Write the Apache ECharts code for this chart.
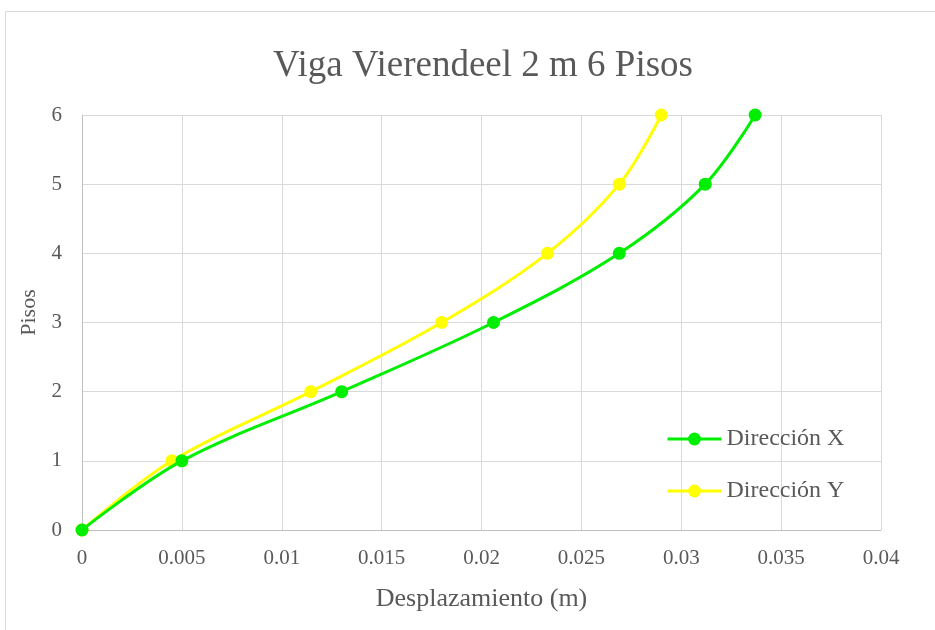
<!DOCTYPE html>
<html><head><meta charset="utf-8">
<script src="https://cdn.jsdelivr.net/npm/echarts@6/dist/echarts.min.js"></script>
<style>html,body{margin:0;padding:0;background:#fff}#c{width:935px;height:630px}</style>
</head><body><div id="c"></div>
<script>
const pisos = [0, 1, 2, 3, 4, 5, 6];
const dirX = [0, 0.0050, 0.0130, 0.0206, 0.0269, 0.0312, 0.0337];
const dirY = [0, 0.0045, 0.01145, 0.0180, 0.0233, 0.0269, 0.0290];
const seriesNames = ['Dirección X', 'Dirección Y'];
const colors = ['#00ee00', '#ffff00'];
const titleText = 'Viga Vierendeel 2 m 6 Pisos';
const xName = 'Desplazamiento (m)';
const yName = 'Pisos';

const font = '"Liberation Serif", "Times New Roman", serif';
const chart = echarts.init(document.getElementById('c'), null, {renderer: 'canvas'});
function mk(vals, i) {
  return {
    name: seriesNames[i], type: 'line', smooth: 0.35,
    data: vals.map((v, k) => [v, pisos[k]]),
    symbol: 'circle', symbolSize: 13,
    lineStyle: {color: colors[i], width: 3},
    itemStyle: {color: colors[i]},
    z: i === 0 ? 3 : 2
  };
}
chart.setOption({
  animation: false,
  backgroundColor: '#fff',
  graphic: [{type: 'rect', shape: {x: 5.5, y: 11.5, width: 1000, height: 700}, style: {fill: null, stroke: '#d9d9d9', lineWidth: 1}, silent: true}],
  title: {text: titleText, left: 268, top: 43, textStyle: {fontFamily: font, fontSize: 37, fontWeight: 'normal', color: '#595959'}},
  legend: {
    orient: 'vertical', left: 661, top: 422, itemGap: 28, itemWidth: 54, itemHeight: 16,
    data: seriesNames,
    lineStyle: {width: 3},
    textStyle: {fontFamily: font, fontSize: 24, color: '#595959'}
  },
  grid: {left: 82, right: 54, top: 115, bottom: 100, containLabel: false},
  xAxis: {
    type: 'value', min: 0, max: 0.04, interval: 0.005,
    name: xName, nameLocation: 'middle', nameGap: 56,
    nameTextStyle: {fontFamily: font, fontSize: 26, color: '#595959'},
    axisLine: {show: true, lineStyle: {color: '#bfbfbf', width: 1}},
    axisTick: {show: false},
    axisLabel: {fontFamily: font, fontSize: 21, color: '#595959', margin: 18,
      formatter: v => String(parseFloat(v.toFixed(4)))},
    splitLine: {show: true, lineStyle: {color: '#d9d9d9', width: 1}}
  },
  yAxis: {
    type: 'value', min: 0, max: 6, interval: 1,
    name: yName, nameLocation: 'middle', nameGap: 40,
    nameTextStyle: {fontFamily: font, fontSize: 22, color: '#595959', padding: [0, 0, 0, 20]},
    axisLine: {show: true, lineStyle: {color: '#bfbfbf', width: 1}},
    axisTick: {show: false},
    axisLabel: {fontFamily: font, fontSize: 21, color: '#595959', margin: 20},
    splitLine: {show: true, lineStyle: {color: '#d9d9d9', width: 1}}
  },
  series: [mk(dirX, 0), mk(dirY, 1)]
});
</script></body></html>
